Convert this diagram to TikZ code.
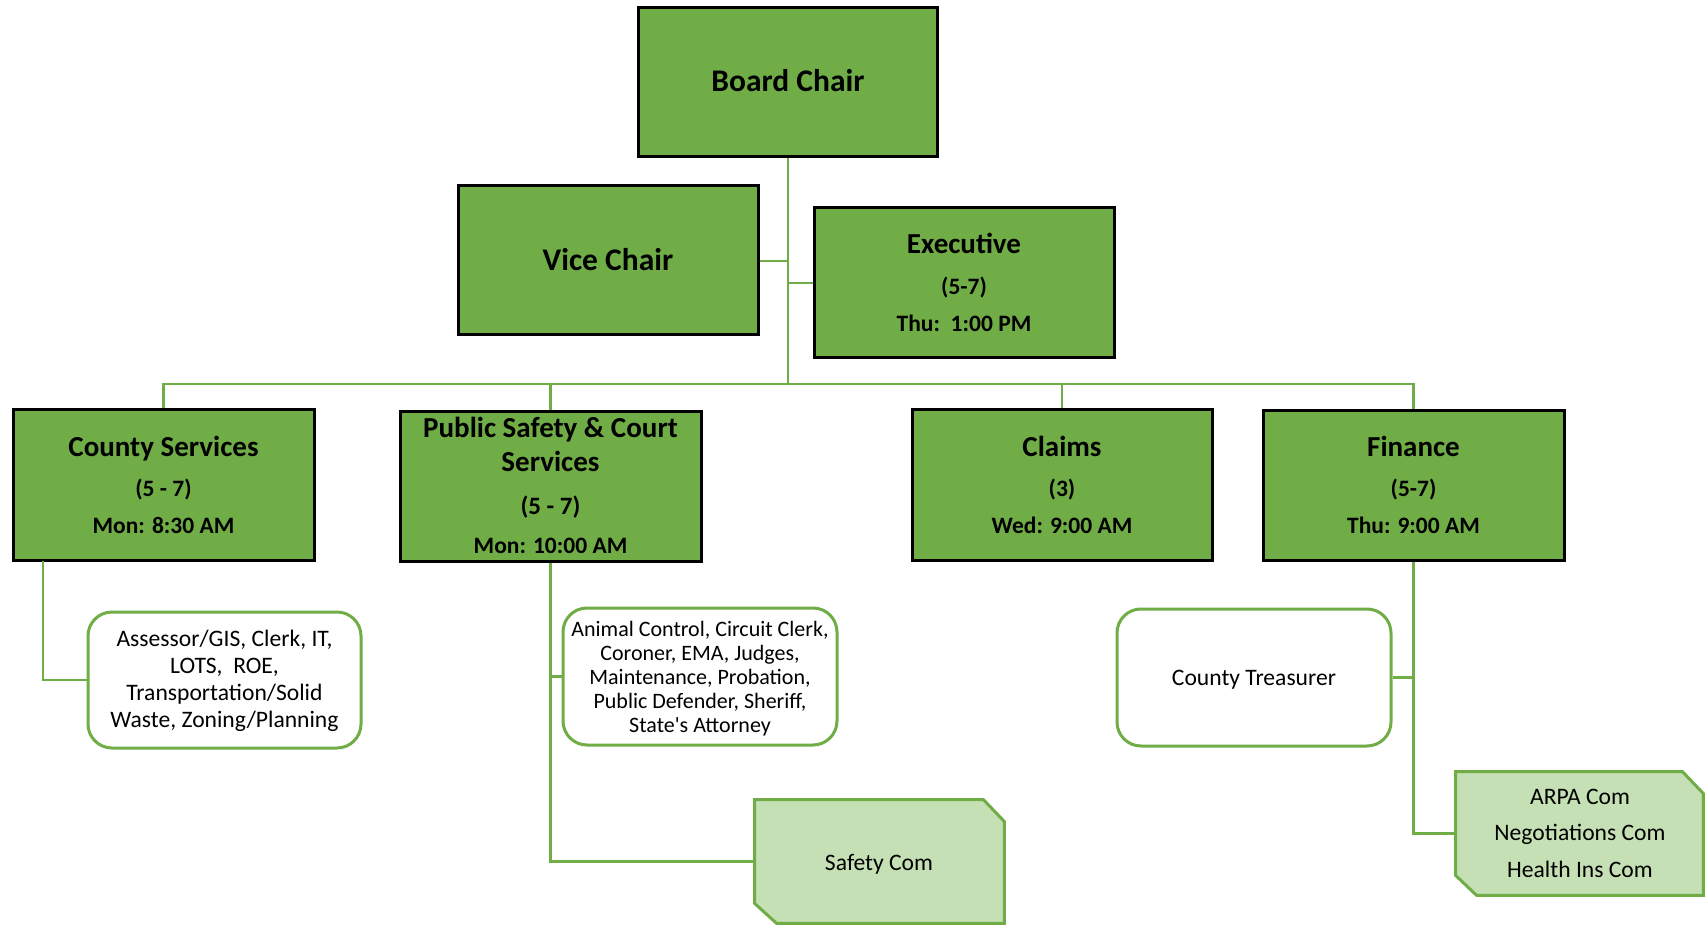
\documentclass[tikz,border=0pt]{standalone}
\usepackage{fontspec}
\setmainfont{Carlito}
\usetikzlibrary{calc,backgrounds}
\definecolor{dgreen}{HTML}{70AD47}
\definecolor{lgreen}{HTML}{C5E0B4}
\definecolor{lnk}{HTML}{70AD47}
\begin{document}
\begin{tikzpicture}[x=0.5pt,y=-0.5pt,
  darkbox/.style={draw=black,line width=1.5pt,fill=dgreen,rectangle,inner sep=0pt},
  roundbox/.style={draw=dgreen,line width=1.5pt,fill=white,rounded corners=12pt,rectangle,inner sep=0pt},
  cutbox/.style={draw=dgreen,line width=1.5pt,fill=lgreen},
  link/.style={draw=lnk,line width=1.3pt},
  big/.style={anchor=base,inner sep=0pt,font=\bfseries\fontsize{15.75}{19}\selectfont},
  ttl/.style={anchor=base,inner sep=0pt,font=\bfseries\fontsize{14.5}{17}\selectfont},
  det/.style={anchor=base,inner sep=0pt,font=\bfseries\fontsize{11.75}{14}\selectfont},
  detb/.style={anchor=base,inner sep=0pt,font=\bfseries\fontsize{12.5}{15}\selectfont},
  reg/.style={anchor=base,inner sep=0pt,align=center,font=\fontsize{11.8}{13.35}\selectfont},
  regs/.style={anchor=base,inner sep=0pt,align=center,font=\fontsize{11}{11.9}\selectfont}
]
\useasboundingbox (0,0) rectangle (1705,925);

% Top level
\node[darkbox,minimum width=149.5pt,minimum height=74.5pt] (board) at (788,82.5) {};
\node[big] (boardt) at (788,92) {Board Chair};
\node[darkbox,minimum width=150pt,minimum height=74.5pt] (vice) at (608,260.5) {};
\node[big] (vicet) at (608,271) {Vice Chair};
\node[darkbox,minimum width=150pt,minimum height=75pt] (exec) at (964,283) {};
\node[ttl] (exect) at (964,254) {Executive};
\node[det] (exec2) at (964,295) {(5-7)};
\node[det] (exec3) at (964,332) {Thu:\ \ 1:00 PM};

% Committees
\node[darkbox,minimum width=150.5pt,minimum height=75.5pt] (cs) at (163.5,485.5) {};
\node[ttl] (cst) at (163.5,457) {County Services};
\node[det] (cs2) at (163.5,497) {(5 - 7)};
\node[det] (cs3) at (163.5,533) {Mon: 8:30 AM};

\node[darkbox,minimum width=150.5pt,minimum height=75pt] (ps) at (550.5,487) {};
\node[ttl] (pst) at (550.5,438) {Public Safety \& Court};
\node[ttl] (pst2) at (550.5,472) {Services};
\node[detb] (ps2) at (550.5,515) {(5 - 7)};
\node[det] (ps3) at (550.5,553) {Mon: 10:00 AM};

\node[darkbox,minimum width=150pt,minimum height=75.5pt] (claims) at (1062,485.5) {};
\node[ttl] (claimst) at (1062,457) {Claims};
\node[det] (claims2) at (1062,497) {(3)};
\node[det] (claims3) at (1062,533) {Wed: 9:00 AM};

\node[darkbox,minimum width=150.5pt,minimum height=75pt] (fin) at (1413.5,486) {};
\node[ttl] (fint) at (1413.5,457) {Finance};
\node[det] (fin2) at (1413.5,497) {(5-7)};
\node[det] (fin3) at (1413.5,533) {Thu: 9:00 AM};

% Departments
\node[roundbox,minimum width=136.5pt,minimum height=68pt] (assess) at (224.5,680) {};
\node[reg] (assesst) at (224.5,727) {Assessor/GIS, Clerk, IT,\\LOTS,\ \ ROE,\\Transportation/Solid\\Waste, Zoning/Planning};

\node[roundbox,minimum width=137pt,minimum height=68.5pt] (animal) at (700,676.5) {};
\node[regs] (animalt) at (700,732) {Animal Control, Circuit Clerk,\\Coroner, EMA, Judges,\\Maintenance, Probation,\\Public Defender, Sheriff,\\State\textquotesingle s Attorney};

\node[roundbox,minimum width=137pt,minimum height=68.5pt] (treas) at (1254,677.5) {};
\node[reg] (treast) at (1254,685) {County Treasurer};

% Cut-corner boxes
\node[inner sep=0pt,minimum width=124.5pt,minimum height=61.5pt] (safety) at (879.5,861.5) {};
\draw[cutbox] (safety.north west) -- ($(safety.north east)+(-21,0)$) -- ($(safety.north east)+(0,22)$)
  -- (safety.south east) -- ($(safety.south west)+(22,0)$) -- ($(safety.south west)+(0,-20)$) -- cycle;
\node[reg] (safetyt) at (879,870) {Safety Com};

\node[inner sep=0pt,minimum width=123.5pt,minimum height=61.5pt] (arpa) at (1579.5,833.5) {};
\draw[cutbox] (arpa.north west) -- ($(arpa.north east)+(-21,0)$) -- ($(arpa.north east)+(0,22)$)
  -- (arpa.south east) -- ($(arpa.south west)+(21,0)$) -- ($(arpa.south west)+(0,-20)$) -- cycle;
\node[reg] (arpa1) at (1580,804) {ARPA Com};
\node[reg] (arpa2) at (1580,840) {Negotiations Com};
\node[reg] (arpa3) at (1580,877) {Health Ins Com};

% Connectors
\coordinate (bus) at (788,384);
\coordinate (vj) at (788,261);
\coordinate (ej) at (788,283);
\draw[link] (board.south) -- (bus);
\draw[link] (vice.east |- vj) -- (vj);
\draw[link] (ej) -- (exec.west |- ej);
\draw[link] (cs.north) |- (bus) -| (fin.north);
\draw[link] (ps.north) -- (ps.north |- bus);
\draw[link] (claims.north) -- (claims.north |- bus);

\coordinate (csx) at (43,561);
\draw[link] (csx) |- (assess.west);
\draw[link] (ps.south) |- (safety.west);
\draw[link] (ps.south |- animal.west) -- (animal.west);
\draw[link] (fin.south) |- (arpa.west);
\draw[link] (fin.south |- treas.east) -- (treas.east);
\end{tikzpicture}
\end{document}
